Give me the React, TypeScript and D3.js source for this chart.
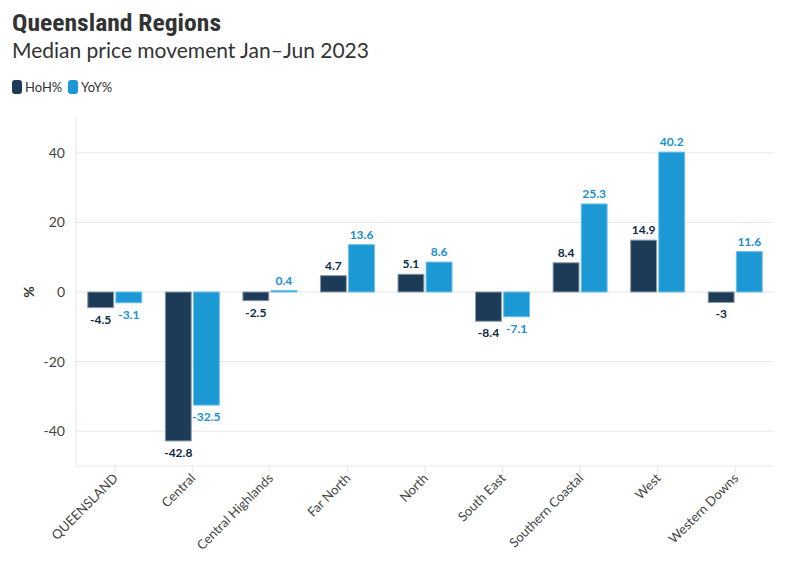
import React from "react";
import * as d3 from "d3";

const categories = ["QUEENSLAND", "Central", "Central Highlands", "Far North", "North", "South East", "Southern Coastal", "West", "Western Downs"];
const hohValues = [-4.5, -42.8, -2.5, 4.7, 5.1, -8.4, 8.4, 14.9, -3];
const yoyValues = [-3.1, -32.5, 0.4, 13.6, 8.6, -7.1, 25.3, 40.2, 11.6];
const hohLabels = ["-4.5", "-42.8", "-2.5", "4.7", "5.1", "-8.4", "8.4", "14.9", "-3"];
const yoyLabels = ["-3.1", "-32.5", "0.4", "13.6", "8.6", "-7.1", "25.3", "40.2", "11.6"];
const yTicks = [-40, -20, 0, 20, 40];
const seriesNames = ["HoH%", "YoY%"];

const W = 796, H = 575;
const left = 76, right = 774, top = 118, bottom = 466;
const HOH = "#1d3a57", YOY = "#1c98d4";
const HOH_TXT = "#0f2a44", YOY_TXT = "#1a8fcf";
const FONT = "Lato, 'Open Sans', sans-serif";

export default function App() {
  const x = d3.scaleBand<string>().domain(categories).range([left, right]).padding(0);
  const y = d3.scaleLinear().domain([-50, 50]).range([bottom, top]);
  const inner = d3.scaleBand<string>().domain(seriesNames).range([0, 54]).paddingInner(0.08);
  const bw = inner.bandwidth();
  const offset = (x.bandwidth() - 54) / 2;
  const series = [
    { name: seriesNames[0], vals: hohValues, labels: hohLabels, fill: HOH, stroke: "#8a9aab", txt: HOH_TXT },
    { name: seriesNames[1], vals: yoyValues, labels: yoyLabels, fill: YOY, stroke: "#6cc0e8", txt: YOY_TXT },
  ];
  return (
    <svg width={W} height={H} style={{ position: "absolute", left: 0, top: 0, background: "#fff" }} fontFamily={FONT}>
      <text x={12} y={31} fontSize={23} fontWeight={700} fill="#333" textLength={209} lengthAdjust="spacingAndGlyphs" fontFamily="'Roboto Condensed', 'Liberation Sans Narrow', Roboto, sans-serif" style={{ fontStretch: "condensed" }}>Queensland Regions</text>
      <text x={12} y={58} fontSize={21} fill="#333">Median price movement Jan–Jun 2023</text>
      {series.map((s, i) => (
        <g key={s.name} transform={`translate(${12 + i * 56},80)`}>
          <rect x={0} y={0} width={10} height={14} rx={3} fill={s.fill} />
          <text x={13} y={12} fontSize={13} fill="#333">{s.name}</text>
        </g>
      ))}
      {yTicks.map((t) => (
        <g key={t}>
          <line x1={left} x2={right} y1={y(t)} y2={y(t)} stroke="#e6e6e6" />
          <text x={65} y={y(t) + 5} textAnchor="end" fontSize={14} fill="#444">{t}</text>
        </g>
      ))}
      <line x1={left} x2={left} y1={top} y2={bottom} stroke="#e6e6e6" />
      <line x1={left} x2={right} y1={bottom} y2={bottom} stroke="#e6e6e6" />
      <text transform={`translate(34,${y(0)}) rotate(-90)`} textAnchor="middle" fontSize={14} fontWeight={700} fill="#333">%</text>
      {categories.map((c) => {
        const cx = (x(c) as number) + x.bandwidth() / 2;
        return (
          <g key={c}>
            <line x1={cx} x2={cx} y1={bottom} y2={bottom + 7} stroke="#e6e6e6" />
            <text transform={`translate(${cx + 4},${bottom + 13}) rotate(-45)`} textAnchor="end" fontSize={13} fill="#444">{c}</text>
          </g>
        );
      })}
      {series.map((s) =>
        categories.map((c, i) => {
          const v = s.vals[i];
          const bx = (x(c) as number) + offset + (inner(s.name) as number);
          const y0 = y(0), y1 = y(v);
          const ry = Math.min(y0, y1), rh = Math.abs(y1 - y0);
          const lx = bx + bw / 2;
          const ly = v >= 0 ? y1 - 6 : y1 + 16;
          return (
            <g key={s.name + c}>
              <rect x={bx} y={ry} width={bw} height={rh} fill={s.fill} stroke={s.stroke} strokeWidth={1} />
              <text x={lx} y={ly} textAnchor="middle" fontSize={12} fontWeight={700} fill={s.txt}>{s.labels[i]}</text>
            </g>
          );
        })
      )}
    </svg>
  );
}
